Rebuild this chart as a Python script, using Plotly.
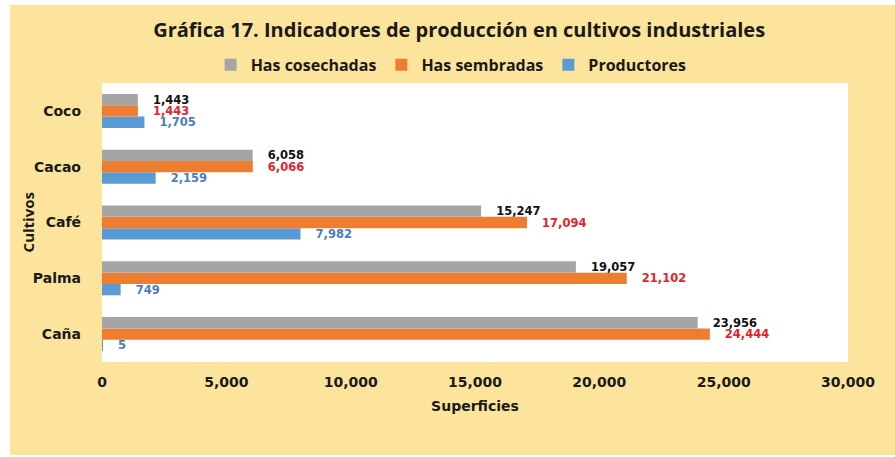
import plotly.graph_objects as go

# data
cultivos = ["Caña", "Palma", "Café", "Cacao", "Coco"]  # bottom to top
has_cosechadas = [23956, 19057, 15247, 6058, 1443]
has_sembradas = [24444, 21102, 17094, 6066, 1443]
productores = [5, 749, 7982, 2159, 1705]

x_ticks = [0, 5000, 10000, 15000, 20000, 25000, 30000]

GRAY = "#A5A5A5"
ORANGE = "#ED7D31"
BLUE = "#5B9BD5"
BG = "#FDE49C"

TEXT_FONT = "DejaVu Sans"
HEAD_FONT = "Open Sans"
PAD = "\u00a0\u00a0\u00a0"

fig = go.Figure()

# plotly draws the first trace lowest inside each group -> Productores first
series = [
    ("Productores", productores, BLUE, "#4A7EBB"),
    ("Has sembradas", has_sembradas, ORANGE, "#E0252E"),
    ("Has cosechadas", has_cosechadas, GRAY, "#111111"),
]
for name, vals, color, label_color in series:
    fig.add_trace(go.Bar(
        y=cultivos,
        x=vals,
        name=name,
        orientation="h",
        marker=dict(color=color, line=dict(width=0)),
        texttemplate=PAD + "%{x:,}",
        textposition="outside",
        constraintext="none",
        cliponaxis=False,
        textfont=dict(family=TEXT_FONT, size=11.5, color=label_color, weight="bold"),
    ))

fig.update_layout(
    width=895,
    height=457,
    barmode="group",
    bargap=0.39,
    bargroupgap=0,
    paper_bgcolor="white",
    plot_bgcolor="white",
    margin=dict(l=102, r=47, t=83, b=95, autoexpand=False),
    title=dict(
        text="Gráfica 17. Indicadores de producción en cultivos industriales",
        x=0.513, xanchor="center", y=1 - 30 / 457, yanchor="middle",
        font=dict(family=HEAD_FONT, size=20, color="#1a1a1a", weight="bold"),
    ),
    legend=dict(
        orientation="h",
        traceorder="reversed",
        x=0.468, xanchor="center",
        y=1.065, yanchor="middle",
        bgcolor="rgba(0,0,0,0)",
        font=dict(family=HEAD_FONT, size=16, color="#1a1a1a", weight="bold"),
        itemwidth=30,
    ),
    shapes=[
        # yellow chart area (thin white border around it in the original)
        dict(type="rect", xref="paper", yref="paper", layer="below",
             x0=-0.1235, x1=1.07, y0=-0.333, y1=1.2796,
             fillcolor=BG, line=dict(width=0)),
        # white plot area
        dict(type="rect", xref="paper", yref="paper", layer="below",
             x0=0, x1=1, y0=0, y1=1,
             fillcolor="white", line=dict(width=0)),
    ],
    annotations=[
        dict(text="Cultivos", xref="paper", yref="paper",
             x=-0.0993, y=0.5, textangle=-90, showarrow=False,
             xanchor="center", yanchor="middle",
             font=dict(family=HEAD_FONT, size=15, color="#1a1a1a", weight="bold")),
    ],
    showlegend=True,
)

fig.update_xaxes(
    range=[0, 30000],
    tickvals=x_ticks,
    tickformat=",",
    showgrid=False,
    zeroline=False,
    showline=False,
    automargin=False,
    ticklabelstandoff=10,
    tickfont=dict(family=TEXT_FONT, size=14, color="#1a1a1a", weight="bold"),
    title=dict(text="Superficies", standoff=12,
               font=dict(family=TEXT_FONT, size=14, color="#1a1a1a", weight="bold")),
)

fig.update_yaxes(
    categoryorder="array",
    categoryarray=cultivos,
    showgrid=False,
    showline=False,
    zeroline=False,
    automargin=False,
    ticklabelstandoff=20,
    tickfont=dict(family=TEXT_FONT, size=14, color="#1a1a1a", weight="bold"),
)

# drop the default 8px body margin so the figure sits at the page corner
fig.write_html("out.html", config={"displayModeBar": False},
               post_script="document.body.style.margin='0';")
